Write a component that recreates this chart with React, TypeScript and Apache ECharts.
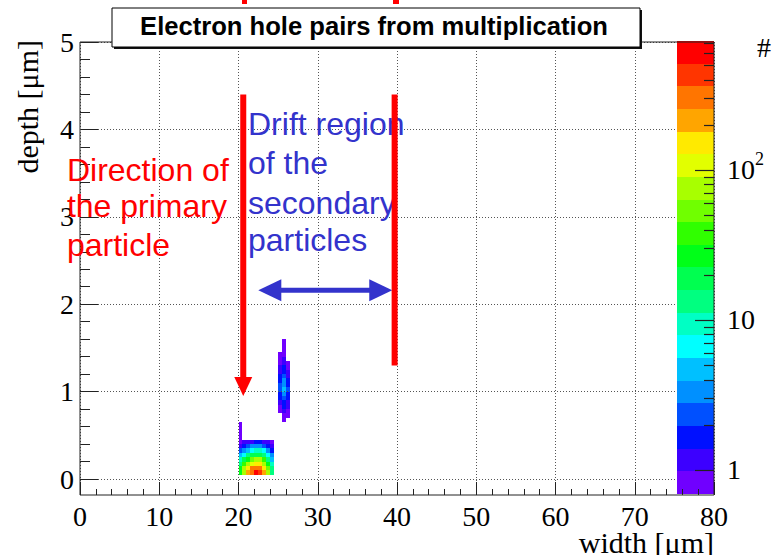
import React, { useEffect, useRef } from 'react';
import * as echarts from 'echarts';

// ---------- texts ----------
const titleText = 'Electron hole pairs from multiplication';
const xAxisTitle = 'width [μm]';
const yAxisTitle = 'depth [μm]';
const zAxisTitle = '#';
const primaryLabel = ['Direction of', 'the primary', 'particle'];
const driftLabel = ['Drift region', 'of the', 'secondary', 'particles'];

// ---------- axes ----------
const xMin = 0;
const xMax = 80;
const xStep = 10;
const yMin = 0;
const yMax = 5;
const yStep = 1;

// ---------- histogram bins (µm) ----------
const binWidth = 0.5;
const binHeight = 0.05;

// lower cluster (primary track), rows bottom -> top
const lowerBinX = [20.0, 20.5, 21.0, 21.5, 22.0, 22.5, 23.0, 23.5, 24.0];
const lowerBinY = [0.05, 0.1, 0.15, 0.2, 0.25, 0.3, 0.35, 0.4, 0.45, 0.5, 0.55, 0.6];
const lowerCounts: (number | null)[][] = [
  [31, 85, 195, 360, 520, 500, 250, 68, 15],
  [25, 65, 140, 260, 345, 335, 170, 48, 12],
  [15, 34, 74, 125, 175, 165, 87, 28, 8.5],
  [8.5, 16, 31, 50, 68, 65, 35, 14, 5],
  [4.2, 7.5, 12, 17, 22, 21, 13.5, 6.5, 2.8],
  [2.3, 3.5, 5.2, 7, 8.5, 8.2, 5.7, 3.1, 1.6],
  [1.3, 1.7, 2.3, 2.8, 3.2, 3.1, 2.5, 1.6, 1.1],
  [0.9, 1.05, 1.25, 1.35, 1.45, 1.4, 1.3, 1.0, 0.8],
  [0.9, null, null, null, null, null, null, null, null],
  [0.85, null, null, null, null, null, null, null, null],
  [0.8, null, null, null, null, null, null, null, null],
  [0.75, null, null, null, null, null, null, null, null],
];

// upper cluster (secondary), rows bottom -> top
const upperBinX = [25.0, 25.5, 26.0];
const upperBinY = [
  0.65, 0.7, 0.75, 0.8, 0.85, 0.9, 0.95, 1.0, 1.05, 1.1,
  1.15, 1.2, 1.25, 1.3, 1.35, 1.4, 1.45, 1.5, 1.55,
];
const upperCounts: (number | null)[][] = [
  [null, 0.8, null],
  [null, 0.9, 0.75],
  [0.8, 1.1, 0.85],
  [0.9, 1.4, 1.0],
  [1.1, 1.9, 1.2],
  [1.4, 2.6, 1.5],
  [1.8, 3.4, 1.8],
  [2.2, 4.0, 2.0],
  [2.0, 3.6, 1.8],
  [1.7, 2.9, 1.5],
  [1.4, 2.3, 1.2],
  [1.2, 1.8, 1.0],
  [1.0, 1.5, 0.85],
  [0.9, 1.25, 0.75],
  [0.85, 1.1, null],
  [0.8, 0.95, null],
  [null, 0.85, null],
  [null, 0.8, null],
  [null, 0.75, null],
];

// ---------- colour scale (log z) ----------
const zMin = 0.69;
const zMax = 724;
const paletteColors = [
  '#7000ff', '#3c00ff', '#0010ff', '#0050ff', '#0090ff',
  '#00c0ff', '#00ffff', '#00ffc4', '#00ff80', '#00ff50',
  '#00ff18', '#30ff00', '#70ff00', '#a8ff00', '#e2ff00',
  '#ffea00', '#ffa500', '#ff7500', '#ff3500', '#ff0000',
];
const colorbarTicks = [
  1, 2, 3, 4, 5, 6, 7, 8, 9,
  10, 20, 30, 40, 50, 60, 70, 80, 90,
  100, 200, 300, 400, 500, 600, 700,
];
const colorbarLabelValues = [1, 10, 100];

// ---------- annotation anchors (data coords) ----------
const primaryArrow = { x: 20.6, yFrom: 4.4, yTo: 0.95 };
const driftEdge = { x: 39.7, yFrom: 4.4, yTo: 1.3 };
const driftSpan = { xFrom: 22.5, xTo: 39.4, y: 2.16 };
const primaryLabelPos = { x: -1.65, y: [3.54, 3.12, 2.68] };
const driftLabelPos = { x: 21.2, y: [4.06, 3.62, 3.16, 2.73] };

const RED = '#ff0000';
const BLUE = '#3333cc';
const SERIF = '"Liberation Serif", "Times New Roman", serif';
const SANS = '"Liberation Sans", Arial, sans-serif';

function buildCells(xs: number[], ys: number[], counts: (number | null)[][]) {
  const out: number[][] = [];
  counts.forEach((row, j) => {
    row.forEach((c, i) => {
      if (c != null) out.push([xs[i], ys[j], c]);
    });
  });
  return out;
}

const cells = [
  ...buildCells(lowerBinX, lowerBinY, lowerCounts),
  ...buildCells(upperBinX, upperBinY, upperCounts),
];

const nBands = paletteColors.length;
const levels = Array.from({ length: nBands + 1 }, (_, k) =>
  zMin * Math.pow(zMax / zMin, k / nBands)
);
const pieces = paletteColors.map((color, k) =>
  k === nBands - 1
    ? { gte: levels[k], lte: levels[k + 1] * 10, color }
    : { gte: levels[k], lt: levels[k + 1], color }
);
const bandData = paletteColors.map((_, k) => [0, levels[k], levels[k + 1], k]);
const tickData = colorbarTicks.map((v) => [1, v, colorbarLabelValues.includes(v) ? 1 : 0]);

const axisColor = '#222';
const gridLineStyle = { color: '#555', type: [1, 2] as number[], width: 1 };

export default function App() {
  const ref = useRef<HTMLDivElement>(null);

  useEffect(() => {
    const chart = echarts.init(ref.current!, null, { renderer: 'svg' });
    const option: any = {
      animation: false,
      backgroundColor: '#ffffff',
      grid: [
        {
          left: 80, top: 42, width: 634, height: 453, show: true,
          borderColor: axisColor, borderWidth: 1, backgroundColor: 'transparent', z: 6,
        },
        { left: 80, top: 42, width: 634, height: 437 },
        { left: 677, top: 41, width: 37, height: 453 },
      ],
      xAxis: [
        {
          gridIndex: 0, type: 'value', min: xMin, max: xMax, interval: xStep, z: 4,
          axisLine: { show: false },
          axisTick: { show: true, inside: true, length: 13, lineStyle: { color: axisColor } },
          minorTick: { show: true, splitNumber: 5, length: 6, lineStyle: { color: axisColor } },
          splitLine: { show: true, lineStyle: gridLineStyle },
          axisLabel: { fontFamily: SERIF, fontSize: 28, color: '#000', margin: 7 },
        },
        { gridIndex: 1, type: 'value', min: xMin, max: xMax, show: false },
        { gridIndex: 2, type: 'value', min: 0, max: 1, show: false },
      ],
      yAxis: [
        { gridIndex: 0, type: 'value', min: 0, max: 1, show: false },
        {
          gridIndex: 1, type: 'value', min: yMin, max: yMax, interval: yStep, z: 2,
          axisLine: { show: false },
          axisTick: { show: true, inside: true, length: 18, lineStyle: { color: axisColor } },
          minorTick: { show: true, splitNumber: 5, length: 10, lineStyle: { color: axisColor } },
          splitLine: { show: true, lineStyle: gridLineStyle },
          axisLabel: { fontFamily: SERIF, fontSize: 28, color: '#000', margin: 6 },
        },
        {
          gridIndex: 2, type: 'log', logBase: 10, min: zMin, max: zMax, position: 'right',
          axisLine: { show: false }, axisTick: { show: false }, splitLine: { show: false },
          axisLabel: {
            fontFamily: SERIF, fontSize: 28, color: '#000', margin: 13,
            showMinLabel: false, showMaxLabel: false,
            formatter: (v: number) => {
              const e = Math.log10(v);
              const r = Math.round(e);
              if (Math.abs(e - r) > 1e-6 || r < 0) return '';
              if (r === 0) return '1';
              if (r === 1) return '10';
              return '10{sup|' + r + '}';
            },
            rich: {
              sup: { fontFamily: SERIF, fontSize: 18, color: '#000', padding: [0, 0, 22, 0] },
            },
          },
        },
      ],
      visualMap: {
        type: 'piecewise', show: false, seriesIndex: 0, dimension: 2, pieces,
      },
      series: [
        {
          type: 'custom', name: 'pairs', xAxisIndex: 1, yAxisIndex: 1, z: 1,
          data: cells, encode: { x: 0, y: 1 },
          renderItem: (_p: any, api: any) => {
            const x0 = api.value(0);
            const y0 = api.value(1);
            const a = api.coord([x0, y0 + binHeight]);
            const b = api.coord([x0 + binWidth, y0]);
            const left = Math.round(a[0]);
            const top = Math.round(a[1]);
            return {
              type: 'rect',
              shape: { x: left, y: top, width: Math.round(b[0]) - left, height: Math.round(b[1]) - top },
              style: { fill: api.visual('color') },
            };
          },
        },
        {
          type: 'custom', name: 'palette', xAxisIndex: 2, yAxisIndex: 2, z: 3,
          data: bandData, encode: { x: 0, y: [1, 2] },
          renderItem: (_p: any, api: any) => {
            const a = api.coord([0, api.value(2)]);
            const b = api.coord([1, api.value(1)]);
            const left = Math.round(a[0]);
            const top = Math.round(a[1]);
            return {
              type: 'rect',
              shape: { x: left, y: top, width: Math.round(b[0]) - left, height: Math.round(b[1]) - top },
              style: { fill: paletteColors[api.value(3)] },
            };
          },
        },
        {
          type: 'custom', name: 'paletteTicks', xAxisIndex: 2, yAxisIndex: 2, z: 5,
          data: tickData, encode: { x: 0, y: 1 },
          renderItem: (_p: any, api: any) => {
            const p = api.coord([1, api.value(1)]);
            const len = api.value(2) ? 19 : 10;
            const y = Math.round(p[1]) + 0.5;
            return {
              type: 'line',
              shape: { x1: p[0] - len, y1: y, x2: p[0], y2: y },
              style: { stroke: axisColor, lineWidth: 1.2 },
            };
          },
        },
      ],
    };
    chart.setOption(option);

    const px = (x: number, y: number) =>
      chart.convertToPixel({ gridIndex: 1 } as any, [x, y]) as number[];

    const g: any[] = [];
    // title box with shadow
    g.push({ type: 'rect', z: 100, shape: { x: 114, y: 10, width: 528, height: 39 }, style: { fill: '#111' } });
    g.push({ type: 'rect', z: 101, shape: { x: 112, y: 8, width: 528, height: 39 }, style: { fill: '#fff', stroke: '#000', lineWidth: 1 } });
    g.push({
      type: 'text', z: 102, x: 374, y: 26,
      style: { text: titleText, font: 'bold 25.6px ' + SANS, fill: '#000', align: 'center', verticalAlign: 'middle' },
    });
    // axis titles
    g.push({
      type: 'text', z: 100, x: 714, y: 542,
      style: { text: xAxisTitle, font: '30px ' + SERIF, fill: '#000', align: 'right', verticalAlign: 'middle' },
    });
    g.push({
      type: 'text', z: 100, x: 27, y: 40, rotation: Math.PI / 2,
      style: { text: yAxisTitle, font: '30px ' + SERIF, fill: '#000', align: 'right', verticalAlign: 'middle' },
    });
    g.push({
      type: 'text', z: 100, x: 757, y: 47,
      style: { text: zAxisTitle, font: '28px ' + SERIF, fill: '#000', align: 'left', verticalAlign: 'middle' },
    });
    // clipped red marks at the top edge
    g.push({ type: 'rect', z: 100, shape: { x: 242, y: 0, width: 5, height: 4 }, style: { fill: RED } });
    g.push({ type: 'rect', z: 100, shape: { x: 393, y: 0, width: 6, height: 4 }, style: { fill: RED } });

    // annotation texts
    primaryLabel.forEach((t, i) => {
      const p = px(primaryLabelPos.x, primaryLabelPos.y[i]);
      g.push({
        type: 'text', z: 110, x: p[0], y: p[1],
        style: { text: t, font: '32px ' + SANS, fill: RED, align: 'left', verticalAlign: 'middle' },
      });
    });
    driftLabel.forEach((t, i) => {
      const p = px(driftLabelPos.x, driftLabelPos.y[i]);
      g.push({
        type: 'text', z: 110, x: p[0], y: p[1],
        style: { text: t, font: '32px ' + SANS, fill: BLUE, align: 'left', verticalAlign: 'middle' },
      });
    });

    // red arrow (primary particle direction)
    const a0 = px(primaryArrow.x, primaryArrow.yFrom);
    const a1 = px(primaryArrow.x, primaryArrow.yTo);
    g.push({ type: 'rect', z: 112, shape: { x: a0[0] - 3, y: a0[1], width: 6, height: a1[1] - a0[1] - 17 }, style: { fill: RED } });
    g.push({
      type: 'polygon', z: 112,
      shape: { points: [[a1[0] - 9, a1[1] - 19], [a1[0] + 9, a1[1] - 19], [a1[0], a1[1]]] },
      style: { fill: RED },
    });
    // red drift edge line
    const d0 = px(driftEdge.x, driftEdge.yFrom);
    const d1 = px(driftEdge.x, driftEdge.yTo);
    g.push({ type: 'rect', z: 112, shape: { x: d0[0] - 3, y: d0[1], width: 6, height: d1[1] - d0[1] }, style: { fill: RED } });
    // blue double arrow
    const s0 = px(driftSpan.xFrom, driftSpan.y);
    const s1 = px(driftSpan.xTo, driftSpan.y);
    g.push({ type: 'rect', z: 111, shape: { x: s0[0] + 15, y: s0[1] - 2.5, width: s1[0] - s0[0] - 30, height: 5 }, style: { fill: BLUE } });
    g.push({
      type: 'polygon', z: 111,
      shape: { points: [[s0[0], s0[1]], [s0[0] + 23, s0[1] - 11], [s0[0] + 23, s0[1] + 11]] },
      style: { fill: BLUE },
    });
    g.push({
      type: 'polygon', z: 111,
      shape: { points: [[s1[0], s1[1]], [s1[0] - 23, s1[1] - 11], [s1[0] - 23, s1[1] + 11]] },
      style: { fill: BLUE },
    });

    chart.setOption({ graphic: g });
    return () => chart.dispose();
  }, []);

  return (
    <div
      ref={ref}
      style={{ position: 'fixed', left: 0, top: 0, width: 776, height: 555, background: '#fff' }}
    />
  );
}
